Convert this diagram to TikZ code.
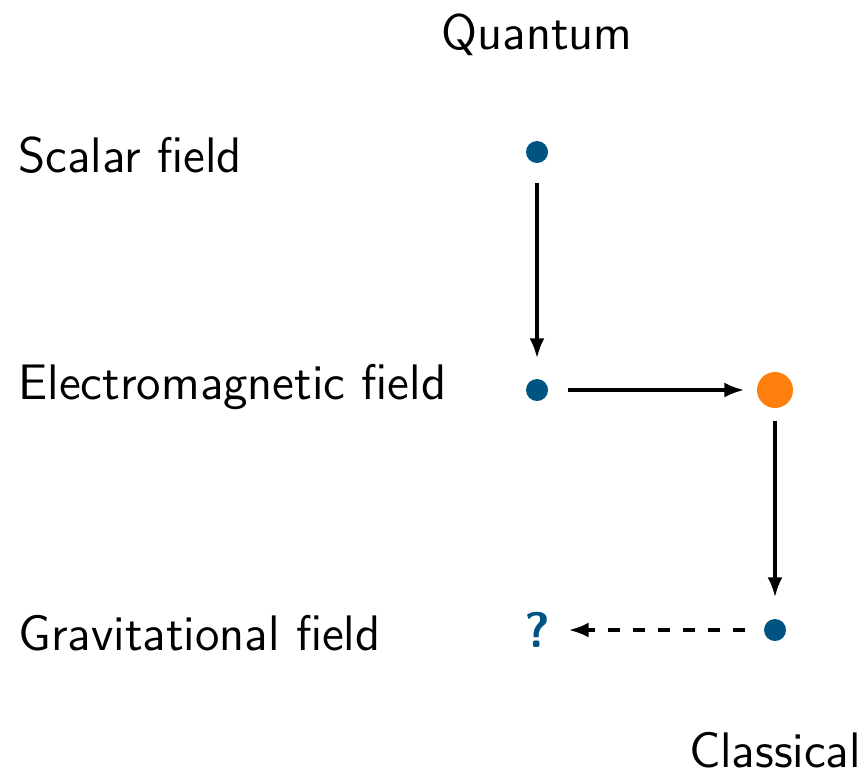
\documentclass[tikz,border=0pt]{standalone}
\usepackage{xcolor}
\usetikzlibrary{arrows.meta, positioning}
\definecolor{dotblue}{RGB}{0,84,130}
\definecolor{dotorange}{RGB}{255,127,14}
\begin{document}
\begin{tikzpicture}[
  every node/.style={font=\sffamily\fontsize{14.2}{16}\selectfont},
  bluedot/.style={circle, fill=dotblue, inner sep=0pt, minimum size=0.22cm},
  orangedot/.style={circle, fill=dotorange, inner sep=0pt, minimum size=0.36cm},
  fieldname/.style={anchor=west, inner sep=0pt},
  flow/.style={-{Latex[length=2mm, width=1.5mm]}, line width=1pt}
]
\useasboundingbox (0,0) rectangle (8.67,7.78);
\def\xq{5.37} \def\xc{7.75}
% axis labels
\node (quantum) at (\xq,7.43) {Quantum};
\node (classical) at (\xc,0.28) {Classical};
% rows
\node[fieldname] (scalar) at (0.18,6.23) {Scalar field};
\node[fieldname] (em) at (0.18,3.91) {Electromagnetic field};
\node[fieldname] (grav) at (0.18,1.45) {Gravitational field};
\node[bluedot] (sq) at (\xq,6.26) {};
\node[bluedot] (emq) at (\xq,3.88) {};
\node[orangedot] (emc) at (\xc,3.88) {};
\node[bluedot] (gc) at (\xc,1.48) {};
\node[inner sep=0pt, text=dotblue, font=\sffamily\bfseries\fontsize{14.2}{16}\selectfont] (gq) at (\xq,1.48) {?};
% arrows
\draw[flow, shorten <=0.19cm, shorten >=0.2cm] (sq) -- (emq);
\draw[flow, shorten <=0.19cm, shorten >=0.12cm] (emq) -- (emc);
\draw[flow, shorten <=0.12cm, shorten >=0.21cm] (emc) -- (gc);
\draw[flow, dash pattern=on 1.2mm off 1.3mm, shorten <=0.18cm, shorten >=0.18cm] (gc) -- (gq);
\end{tikzpicture}
\end{document}
